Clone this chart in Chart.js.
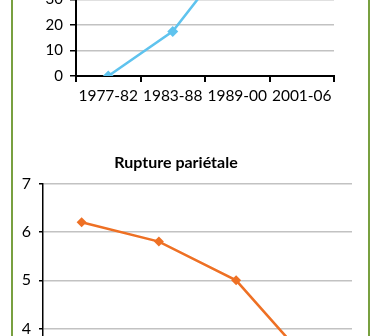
<!DOCTYPE html>
<html>
<head>
<meta charset="utf-8">
<script src="https://cdn.jsdelivr.net/npm/chart.js@4"></script>
<style>
  html, body { margin: 0; padding: 0; background: #fff; }
  #page { position: relative; width: 380px; height: 336px; overflow: hidden; background: #fff; }
  #page canvas { position: absolute; left: 0; }
  #topChart { top: -125px; }
  #bottomChart { top: 140px; }
  .frame { position: absolute; top: 0; bottom: 0; width: 2px; background: #78a040; }
</style>
</head>
<body>
<div id="page">
  <canvas id="topChart" width="380" height="245"></canvas>
  <canvas id="bottomChart" width="380" height="282"></canvas>
  <div class="frame" style="left:11px"></div>
  <div class="frame" style="left:368px"></div>
</div>

<script>
// Data
const periods = ['1977-82', '1983-88', '1989-00', '2001-06'];
const topValues = [0, 17.5, 50, 65];
const ruptureValues = [6.2, 5.8, 5.0, 3.2];
const bottomTitle = 'Rupture pariétale';

// fixed scale sizes so the plot areas land where the original ones are
function fixWidth(w) { return function (scale) { scale.width = w; }; }
function fixHeight(h) { return function (scale) { scale.height = h; }; }

document.addEventListener('DOMContentLoaded', function () {
  // Top chart (only its lower part is visible)
  const topCtx = document.getElementById('topChart').getContext('2d');
  new Chart(topCtx, {
    type: 'line',
    data: {
      labels: periods,
      datasets: [
        {
          data: topValues,
          borderColor: '#5fc3ee',
          backgroundColor: '#5fc3ee',
          borderWidth: 2.5,
          pointStyle: 'rectRot',
          pointRadius: 5.5,
          pointBorderWidth: 0,
          tension: 0,
        },
      ],
    },
    options: {
      responsive: false,
      animation: false,
      layout: { padding: { top: 22.5, right: 46, left: 0, bottom: 0 } },
      plugins: {
        legend: { display: false },
        tooltip: { enabled: false },
      },
      scales: {
        x: {
          offset: true,
          afterFit: fixHeight(44),
          grid: {
            offset: true,
            drawOnChartArea: false,
            drawTicks: true,
            tickLength: 6,
            tickColor: '#000',
            lineWidth: 2,
          },
          border: { display: true, color: '#000', width: 2 },
          ticks: {
            color: '#000',
            padding: 5,
            maxRotation: 0,
            font: { family: 'Lato', size: 15.5 },
          },
        },
        y: {
          min: 0,
          max: 70,
          afterFit: fixWidth(76),
          grid: {
            color: '#c2c2c2',
            lineWidth: 1.5,
            tickColor: '#000',
            tickLength: 6,
          },
          border: { display: true, color: '#000', width: 2 },
          ticks: {
            stepSize: 10,
            color: '#000',
            padding: 7,
            font: { family: 'Lato', size: 15 },
          },
        },
      },
    },
  });

  // Bottom chart: Rupture pariétale (its lower part is cut off)
  const bottomCtx = document.getElementById('bottomChart').getContext('2d');
  new Chart(bottomCtx, {
    type: 'line',
    data: {
      labels: periods,
      datasets: [
        {
          data: ruptureValues,
          borderColor: '#ee7024',
          backgroundColor: '#ee7024',
          borderWidth: 2.5,
          pointStyle: 'rectRot',
          pointRadius: 5,
          pointBorderWidth: 0,
          tension: 0,
        },
      ],
    },
    options: {
      responsive: false,
      animation: false,
      layout: { padding: { top: 0, right: 28, left: 0, bottom: 0 } },
      plugins: {
        legend: { display: false },
        tooltip: { enabled: false },
        title: {
          display: true,
          text: bottomTitle,
          color: '#000',
          font: { family: 'Lato', size: 16, weight: 'bold', lineHeight: 1.2 },
          padding: { top: 13.4, bottom: 11 },
        },
      },
      scales: {
        x: {
          offset: true,
          afterFit: fixHeight(45),
          grid: {
            offset: true,
            drawOnChartArea: false,
            tickColor: '#000',
            tickLength: 5,
          },
          border: { display: true, color: '#000', width: 1.5 },
          ticks: { color: '#000', font: { family: 'Lato', size: 14 } },
        },
        y: {
          min: 3,
          max: 7,
          afterFit: fixWidth(43),
          grid: {
            color: '#c2c2c2',
            lineWidth: 1.5,
            tickColor: '#000',
            tickLength: 4,
          },
          border: { display: true, color: '#000', width: 1.5 },
          ticks: {
            stepSize: 1,
            color: '#000',
            padding: 8,
            font: { family: 'Lato', size: 16 },
          },
        },
      },
    },
  });
});
</script>
</body>
</html>
